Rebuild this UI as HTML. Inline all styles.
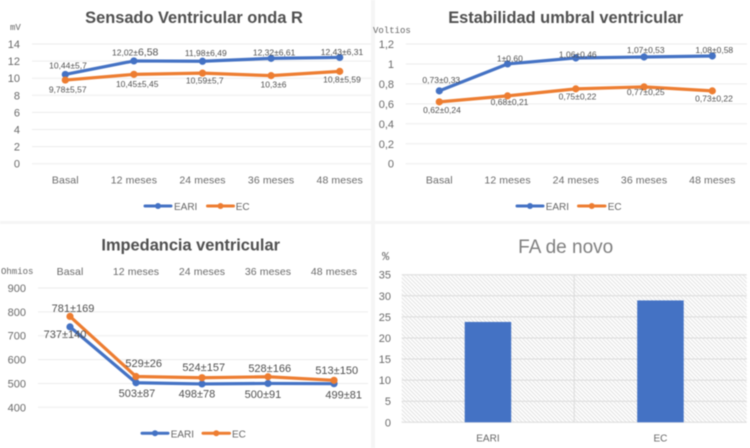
<!DOCTYPE html>
<html lang="es">
<head>
<meta charset="utf-8">
<title>Seguimiento ventricular</title>
<style>
  html, body { margin: 0; padding: 0; background: #fff; }
  #figure { display: block; width: 750px; height: 448px; filter: blur(0.4px); font-family: "Liberation Sans", sans-serif; }
  .title { font-weight: bold; fill: #505050; text-anchor: middle; }
  .unit { font-family: "Liberation Mono", monospace; font-size: 9px; fill: #666; }
  .tick { font-size: 11px; fill: #6a6a6a; }
  .cat { font-size: 10.5px; fill: #6a6a6a; text-anchor: middle; letter-spacing: 0.1px; }
  .legend { font-size: 10px; fill: #666; }
  .val { fill: #505050; text-anchor: middle; }
</style>
</head>
<body>
<svg id="figure" xmlns="http://www.w3.org/2000/svg" width="750" height="448" viewBox="0 0 750 448">
  <defs>
    <pattern id="hatch" width="4" height="4" patternUnits="userSpaceOnUse">
      <rect width="4" height="4" fill="#fdfdfd"/>
      <path d="M-1,-1 L5,5 M-1,3 L1,5 M3,-1 L5,1" stroke="#e0e0e0" stroke-width="0.8"/>
    </pattern>
  </defs>
  <rect width="750" height="448" fill="#fff"/>
  <rect x="371" y="0" width="4" height="448" fill="#f5f5f5"/>
  <rect x="0" y="221" width="750" height="3" fill="#f5f5f5"/>

  <text class="title" x="194" y="23" font-size="16.4px">Sensado Ventricular onda R</text>
  <text class="title" x="565.7" y="23" font-size="16.4px">Estabilidad umbral ventricular</text>
  <text class="title" x="190.7" y="250.5" font-size="16.4px">Impedancia ventricular</text>
  <text x="565.7" y="253" font-size="19px" fill="#7f7f7f" text-anchor="middle">FA de novo</text>

  <text class="unit" x="10" y="30">mV</text>
  <text class="unit" x="373" y="33">Voltios</text>
  <text class="unit" x="1" y="274">Ohmios</text>
  <text class="unit" x="382" y="260" style="font-size:12px">%</text>

  <g id="layer"></g>
</svg>

<script>
// ---- shared categories ----
const months = ['Basal', '12 meses', '24 meses', '36 meses', '48 meses'];

// ---- Sensado ventricular ----
const sensadoTicks = [0, 2, 4, 6, 8, 10, 12, 14];
const sensadoEari = [10.44, 12.02, 11.98, 12.32, 12.43];
const sensadoEc = [9.78, 10.45, 10.59, 10.3, 10.8];
const sensadoEariLabels = ['10,44±5,7', '12,02±6,58', '11,98±6,49', '12,32±6,61', '12,43±6,31'];
const sensadoEcLabels = ['9,78±5,57', '10,45±5,45', '10,59±5,7', '10,3±6', '10,8±5,59'];

// ---- Estabilidad umbral ----
const umbralTicks = [0, 0.2, 0.4, 0.6, 0.8, 1, 1.2];
const umbralEari = [0.73, 1, 1.06, 1.07, 1.08];
const umbralEc = [0.62, 0.68, 0.75, 0.77, 0.73];
const umbralEariLabels = ['0,73±0,33', '1±0,60', '1,06±0,46', '1,07±0,53', '1,08±0,58'];
const umbralEcLabels = ['0,62±0,24', '0,68±0,21', '0,75±0,22', '0,77±0,25', '0,73±0,22'];

// ---- Impedancia ----
const impedanciaTicks = [400, 500, 600, 700, 800, 900];
const impedanciaEari = [737, 503, 498, 500, 499];
const impedanciaEc = [781, 529, 524, 528, 513];
const impedanciaEariLabels = ['737±140', '503±87', '498±78', '500±91', '499±81'];
const impedanciaEcLabels = ['781±169', '529±26', '524±157', '528±166', '513±150'];

// ---- FA de novo ----
const faCategories = ['EARI', 'EC'];
const faValues = [23.8, 28.9];
const faTicks = [0, 5, 10, 15, 20, 25, 30, 35];

const seriesNames = ['EARI', 'EC'];
const BLUE = '#4472c4';
const ORANGE = '#ed7d31';
const NS = 'http://www.w3.org/2000/svg';
const layer = document.getElementById('layer');

function make(tag, attrs, text) {
  const el = document.createElementNS(NS, tag);
  for (const k in attrs) el.setAttribute(k, attrs[k]);
  if (text !== undefined) el.textContent = text;
  layer.appendChild(el);
  return el;
}
function tag(el, name, interactable) {
  
  
  return el;
}
function fmt(v) { return String(v).replace('.', ','); }
function linearScale(d0, d1, r0, r1) {
  return function (v) { return r0 + (v - d0) * (r1 - r0) / (d1 - d0); };
}

function lineChart(c) {
  const y = linearScale(c.ticks[0], c.ticks[c.ticks.length - 1], c.yBottom, c.yTop);
  const x = function (i) { return c.xFirst + i * c.xStep; };

  c.ticks.forEach(function (t) {
    tag(make('line', { x1: c.gridL, x2: c.gridR, y1: y(t), y2: y(t), stroke: '#ededed', 'stroke-width': 1 }), c.id + '-gridline', false);
    tag(make('text', { class: 'tick', x: c.tickR, y: y(t) + 4, 'text-anchor': 'end' }, fmt(t)), c.id + '-y-tick', false);
  });
  months.forEach(function (m, i) {
    tag(make('text', { class: 'cat', x: x(i), y: c.catY }, m), c.id + '-x-label', false);
  });

  c.series.forEach(function (s) {
    const pts = s.values.map(function (v, i) { return x(i) + ',' + y(v); }).join(' ');
    tag(make('polyline', { points: pts, fill: 'none', stroke: s.color, 'stroke-width': 3.2, 'stroke-linejoin': 'round', 'stroke-linecap': 'round' }), c.id + '-line-' + s.key, false);
    s.values.forEach(function (v, i) {
      tag(make('circle', { cx: x(i), cy: y(v), r: 3.6, fill: s.color }), c.id + '-point-' + s.key, false);
    });
  });

  c.series.forEach(function (s) {
    s.values.forEach(function (v, i) {
      const off = s.offsets[i];
      const t = tag(make('text', { class: 'val', x: x(i) + off[0], y: y(v) + off[1] + c.valSize * 0.35, 'font-size': c.valSize + 'px' }, ''), c.id + '-value-' + s.key, false);
      const txt = s.labels[i];
      if (s.bigIndex === i) {
        const parts = txt.split('±');
        t.textContent = parts[0] + '±';
        const big = document.createElementNS(NS, 'tspan');
        big.setAttribute('font-size', '10.5px');
        big.textContent = parts[1];
        t.appendChild(big);
      } else {
        t.textContent = txt;
      }
    });
  });

  c.legend.forEach(function (l, i) {
    const col = c.series[i].color;
    tag(make('line', { x1: l[0], x2: l[1], y1: c.legendY, y2: c.legendY, stroke: col, 'stroke-width': 3, 'stroke-linecap': 'round' }), c.id + '-legend-line-' + c.series[i].key, false);
    tag(make('circle', { cx: (l[0] + l[1]) / 2, cy: c.legendY, r: 3, fill: col }), c.id + '-legend-marker-' + c.series[i].key, false);
    tag(make('text', { class: 'legend', x: l[2], y: c.legendY + 4 }, seriesNames[i]), c.id + '-legend-label-' + c.series[i].key, false);
  });
}

lineChart({
  id: 'sensado', ticks: sensadoTicks, yTop: 44, yBottom: 163.7, xFirst: 65.3, xStep: 68.6,
  gridL: 32, gridR: 371, tickR: 20, catY: 183.5, legendY: 206, valSize: 8.5,
  legend: [[145, 171, 174], [207.5, 233.5, 235.7]],
  series: [
    { key: 'eari', color: BLUE, values: sensadoEari, labels: sensadoEariLabels, bigIndex: 1,
      offsets: [[2.7, -8.7], [1.3, -8.6], [3.3, -8], [3, -5.7], [2.3, -5.4]] },
    { key: 'ec', color: ORANGE, values: sensadoEc, labels: sensadoEcLabels,
      offsets: [[2.4, 9.6], [3.3, 9.6], [2.3, 7.2], [2.4, 9.1], [2.3, 8.3]] }
  ]
});

lineChart({
  id: 'umbral', ticks: umbralTicks, yTop: 44, yBottom: 163.7, xFirst: 439.3, xStep: 68.25,
  gridL: 405.7, gridR: 747, tickR: 394, catY: 183.5, legendY: 206, valSize: 8.5,
  legend: [[517, 543, 545.7], [578.5, 605, 607.7]],
  series: [
    { key: 'eari', color: BLUE, values: umbralEari, labels: umbralEariLabels,
      offsets: [[2, -10.9], [2.3, -5.6], [2, -3.3], [1.7, -6.7], [2, -5.7]] },
    { key: 'ec', color: ORANGE, values: umbralEc, labels: umbralEcLabels,
      offsets: [[2.7, 8.4], [2, 6.1], [1.7, 7.8], [1.7, 5.1], [1.7, 7.4]] }
  ]
});

lineChart({
  id: 'impedancia', ticks: impedanciaTicks, yTop: 288, yBottom: 407.3, xFirst: 70, xStep: 66,
  gridL: 38, gridR: 368, tickR: 26, catY: 275, legendY: 433.3, valSize: 11,
  legend: [[142, 168, 170.7], [203, 229.5, 232]],
  series: [
    { key: 'eari', color: BLUE, values: impedanciaEari, labels: impedanciaEariLabels,
      offsets: [[-5, 7.4], [1, 10.2], [-5, 9.7], [-5, 10.9], [9.7, 11]] },
    { key: 'ec', color: ORANGE, values: impedanciaEc, labels: impedanciaEcLabels,
      offsets: [[3, -8.4], [7.7, -13.2], [1.7, -10.7], [1.7, -8.5], [2.7, -10.3]] }
  ]
});

// ---- bar chart ----
(function () {
  const left = 401.7, right = 746.7, top = 274.7, bottom = 422.3;
  const y = linearScale(0, 35, bottom, top);
  const band = (right - left) / faCategories.length;
  const barW = 46.5;
  tag(make('rect', { x: left, y: top, width: right - left, height: bottom - top, fill: 'url(#hatch)' }), 'fa-plot-area', false);
  faTicks.forEach(function (t) {
    tag(make('line', { x1: left, x2: right, y1: y(t), y2: y(t), stroke: '#dcdcdc', 'stroke-width': 1 }), 'fa-gridline', false);
    tag(make('text', { class: 'tick', x: 391, y: y(t) + 4, 'text-anchor': 'end' }, String(t)), 'fa-y-tick', false);
  });
  tag(make('line', { x1: left + band, x2: left + band, y1: top, y2: bottom, stroke: '#dcdcdc', 'stroke-width': 1 }), 'fa-category-divider', false);
  faCategories.forEach(function (cat, i) {
    const cx = left + band * (i + 0.5);
    tag(make('rect', { x: cx - barW / 2, y: y(faValues[i]), width: barW, height: bottom - y(faValues[i]), fill: BLUE }), 'fa-bar-' + cat.toLowerCase(), false);
    tag(make('text', { x: cx, y: 441.5, 'font-size': '10px', fill: '#666', 'text-anchor': 'middle' }, cat), 'fa-x-label', false);
  });
})();
</script>
</body>
</html>
